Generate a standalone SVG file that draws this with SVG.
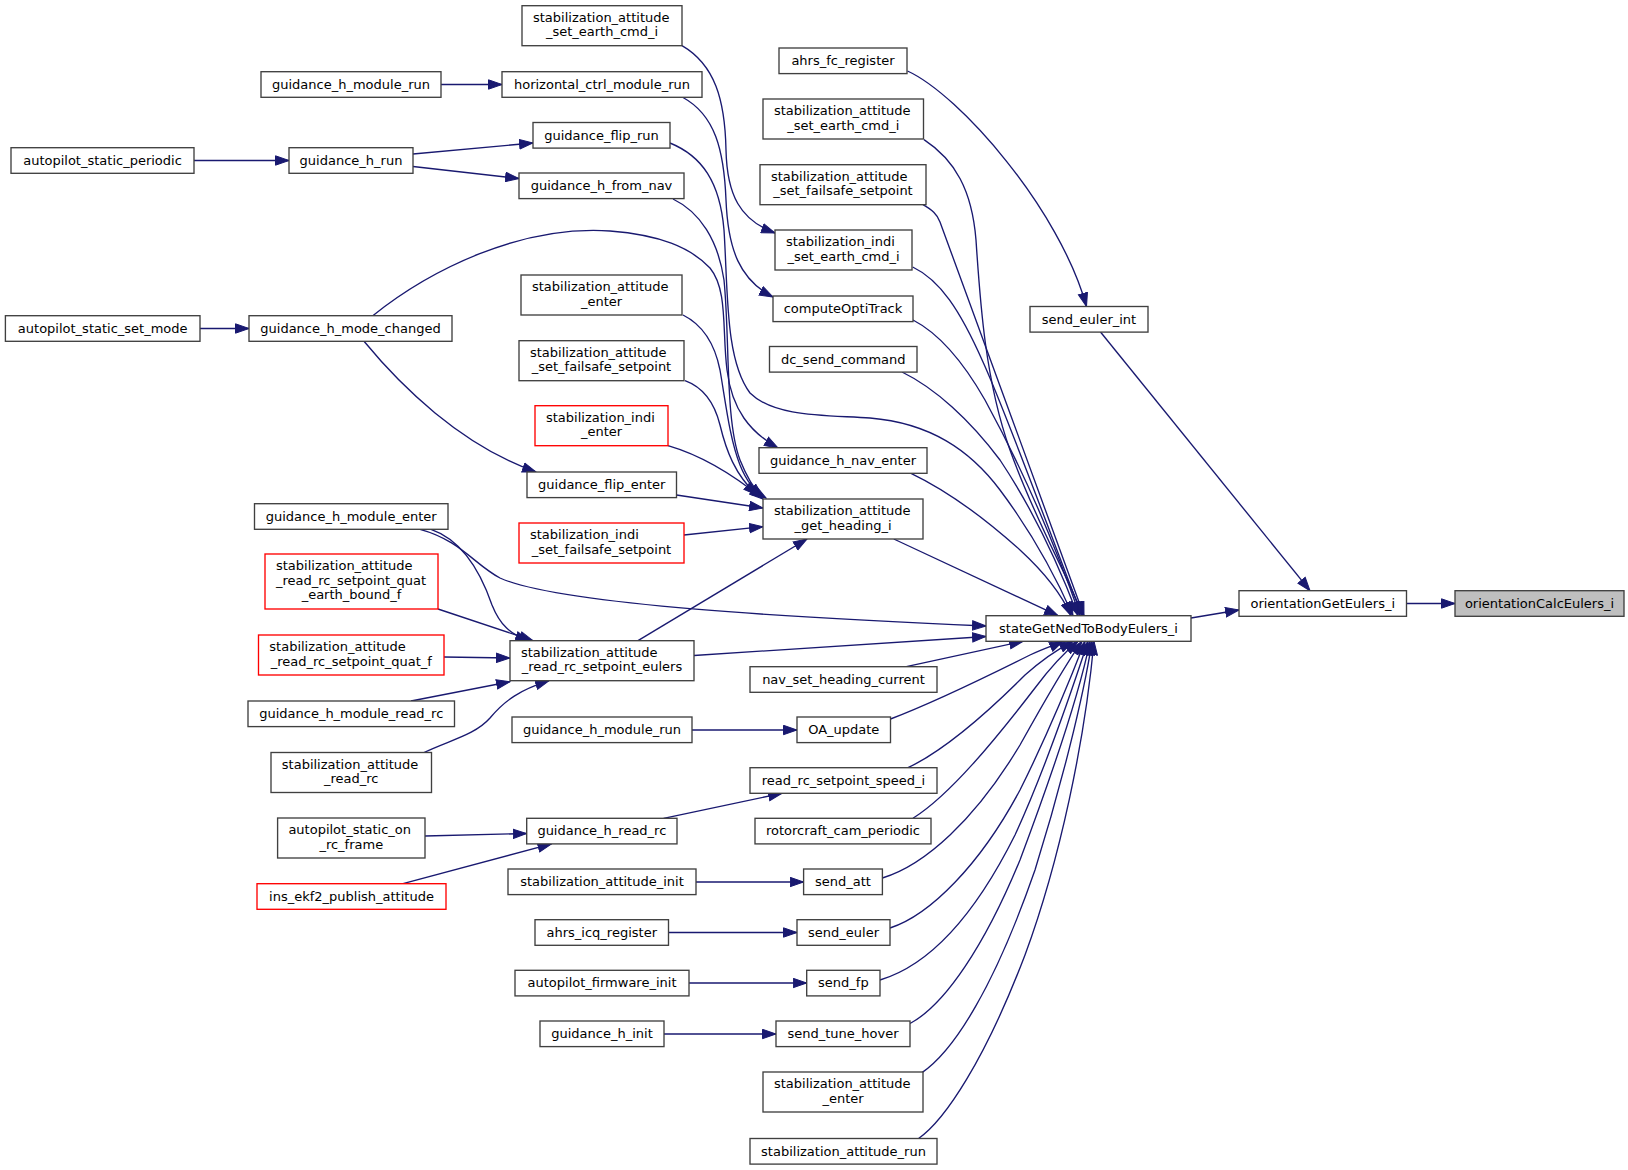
<svg xmlns="http://www.w3.org/2000/svg" width="1628" height="1170" viewBox="0 0 1628 1170">
<style>
.n rect{fill:#ffffff;stroke:#404040;stroke-width:1.35}
.n.r rect{stroke:#ff0000}
.n.h rect{fill:#bfbfbf}
text{font-family:"DejaVu Sans","Liberation Sans",sans-serif;font-size:13px;fill:#000000}
.m{text-anchor:middle}
.s{text-anchor:start}
#edges path{fill:none;stroke:#191970;stroke-width:1.35;marker-end:url(#a)}
</style>
<defs>
<marker id="a" markerUnits="userSpaceOnUse" markerWidth="15" markerHeight="11" viewBox="0 0 15 11" refX="14" refY="5.5" orient="auto">
<path d="M0.5,0.8 L14,5.5 L0.5,10.2 Z" fill="#191970" stroke="#191970" stroke-width="1"/>
</marker>
</defs>
<rect x="0" y="0" width="1628" height="1170" fill="#ffffff"/>
<g id="edges">
<path d="M1406.5,603.5 L1455,603.5"/>
<path d="M1191,618 L1239,610"/>
<path d="M1100.5,332 L1310,590.7"/>
<path d="M907.5,71 C960,95 1060,210 1086.5,306.5"/>
<path d="M441,84.5 L502,84.5"/>
<path d="M194,160.5 L289,160.5"/>
<path d="M413,154 L533,143"/>
<path d="M413,166.5 L519,178.5"/>
<path d="M200,328.5 L249,328.5"/>
<path d="M364,341.3 C400,385 460,445 536,472"/>
<path d="M372.8,315.7 C430,270 520,225 610,231 C660,235 690,247 710,268 C728,290 722,330 727,370 C732,410 750,432 778,448"/>
<path d="M682,45.7 C715,65 725,100 726,150 C727,195 740,220 775,233"/>
<path d="M683,97.5 C715,115 724,150 726,200 C728,250 740,280 773,297"/>
<path d="M670,143 C702,156 720,182 724,230 C728,290 725,360 750,393 C775,418 830,415 870,418 C930,423 970,450 1000,490 C1030,530 1055,575 1073,615.7"/>
<path d="M673,199 C700,212 718,240 724,280 C730,340 725,420 740,460 C748,480 755,490 762,497"/>
<path d="M683,315 C703,325 715,345 720,370 C726,405 730,440 740,465 C746,480 753,490 766,498"/>
<path d="M685,380.7 C705,388 715,405 720,425 C726,450 735,475 757,495"/>
<path d="M668,445.7 C700,455 730,472 763,499"/>
<path d="M676.5,495 L763,508"/>
<path d="M684,535 L763,526.7"/>
<path d="M638,640.7 L807,539"/>
<path d="M431,529.3 C462,540 480,570 492,605 C500,625 510,634 529,640.7"/>
<path d="M420,529.3 C460,540 475,565 500,578 C560,605 800,618 986,626"/>
<path d="M694,655.5 L986,636.5"/>
<path d="M438,609 L533,640.7"/>
<path d="M444,657 L510,658"/>
<path d="M411,701 L510,681.7"/>
<path d="M424,752.5 C450,740 475,735 490,718 C505,700 520,690 549,680.7"/>
<path d="M692,730 L797,730"/>
<path d="M663.6,818.3 L782,793.3"/>
<path d="M425,836 L526.7,833.5"/>
<path d="M403,883.7 L551.5,843.9"/>
<path d="M696,882 L803.6,882"/>
<path d="M668.5,932.5 L797,932.5"/>
<path d="M689,983 L806.7,983"/>
<path d="M664,1034 L776,1034"/>
<path d="M924,139.6 C955,160 972,190 976,240 C980,300 985,380 1010,450 C1035,520 1065,570 1083,615.7"/>
<path d="M923,204.7 C932,210 937,214 940,222 C975,320 1050,520 1084,615.7"/>
<path d="M912.7,267 C940,280 960,310 983,362 C1005,410 1045,520 1082,615.7"/>
<path d="M913,320 C940,334 965,365 985,400 C1015,455 1050,530 1080,615.7"/>
<path d="M902,372 C935,388 970,420 1000,460 C1030,505 1055,555 1078,615.7"/>
<path d="M911,473.3 C950,492 990,523 1020,550 C1045,573 1062,595 1071,615.7"/>
<path d="M893.8,539 L1058,615.7"/>
<path d="M906.3,666.7 L1023,641.3"/>
<path d="M890.5,719 C935,702 990,675 1030,655 C1045,648 1055,645 1063,641.3"/>
<path d="M908,767.7 C945,750 990,710 1025,675 C1045,657 1060,648 1073,641.3"/>
<path d="M913,818.3 C950,795 995,740 1035,688 C1050,668 1065,652 1078,641.3"/>
<path d="M882.4,878 C925,865 975,820 1020,745 C1045,700 1065,665 1082,641.3"/>
<path d="M890,928 C930,915 980,865 1020,790 C1045,740 1070,680 1085,641.3"/>
<path d="M880,980 C930,965 975,915 1015,835 C1045,770 1072,690 1088,641.3"/>
<path d="M910,1023.5 C945,1005 985,945 1020,860 C1050,780 1078,700 1090,641.3"/>
<path d="M922,1072.6 C955,1050 995,985 1035,870 C1060,790 1083,700 1092,641.3"/>
<path d="M918.6,1138.5 C945,1120 985,1060 1025,955 C1060,860 1085,740 1094,641.3"/>
</g>
<g id="node-autopilot_static_periodic" class="n"><rect x="11" y="147.7" width="183" height="25.6"/><text class="m" x="102.5" y="164.7">autopilot_static_periodic</text></g>
<g id="node-autopilot_static_set_mode" class="n"><rect x="5.4" y="315.7" width="194.6" height="25.6"/><text class="m" x="102.7" y="332.7">autopilot_static_set_mode</text></g>
<g id="node-guidance_h_module_run_1" class="n"><rect x="261" y="71.7" width="180" height="25.6"/><text class="m" x="351" y="88.7">guidance_h_module_run</text></g>
<g id="node-guidance_h_run" class="n"><rect x="289" y="147.7" width="124" height="25.6"/><text class="m" x="351" y="164.7">guidance_h_run</text></g>
<g id="node-guidance_h_mode_changed" class="n"><rect x="249" y="315.7" width="203" height="25.6"/><text class="m" x="350.5" y="332.7">guidance_h_mode_changed</text></g>
<g id="node-guidance_h_module_enter" class="n"><rect x="254.5" y="503.7" width="193.5" height="25.6"/><text class="m" x="351.2" y="520.7">guidance_h_module_enter</text></g>
<g id="node-stabilization_attitude_read_rc_setpoint_quat_earth_bound_f" class="n r"><rect x="265" y="554" width="173" height="55"/><text class="s" x="276" y="570.3">stabilization_attitude</text><text class="s" x="276" y="584.6">_read_rc_setpoint_quat</text><text class="m" x="351.5" y="598.9">_earth_bound_f</text></g>
<g id="node-stabilization_attitude_read_rc_setpoint_quat_f" class="n r"><rect x="258.5" y="635" width="185.5" height="40"/><text class="s" x="269.3" y="651.3">stabilization_attitude</text><text class="m" x="351.25" y="665.6">_read_rc_setpoint_quat_f</text></g>
<g id="node-guidance_h_module_read_rc" class="n"><rect x="248" y="701" width="206.5" height="25.6"/><text class="m" x="351.25" y="718">guidance_h_module_read_rc</text></g>
<g id="node-stabilization_attitude_read_rc" class="n"><rect x="271" y="752.5" width="160.5" height="40"/><text class="s" x="281.8" y="768.8">stabilization_attitude</text><text class="m" x="351.25" y="783.1">_read_rc</text></g>
<g id="node-autopilot_static_on_rc_frame" class="n"><rect x="277.6" y="818" width="147.4" height="40"/><text class="s" x="288.4" y="834.3">autopilot_static_on</text><text class="m" x="351.3" y="848.6">_rc_frame</text></g>
<g id="node-ins_ekf2_publish_attitude" class="n r"><rect x="257" y="883.7" width="189" height="25.6"/><text class="m" x="351.5" y="900.7">ins_ekf2_publish_attitude</text></g>
<g id="node-stabilization_attitude_set_earth_cmd_i_1" class="n"><rect x="522" y="5.7" width="160" height="40"/><text class="s" x="533" y="22">stabilization_attitude</text><text class="m" x="602" y="36.3">_set_earth_cmd_i</text></g>
<g id="node-horizontal_ctrl_module_run" class="n"><rect x="502" y="71.7" width="200" height="25.6"/><text class="m" x="602" y="88.7">horizontal_ctrl_module_run</text></g>
<g id="node-guidance_flip_run" class="n"><rect x="533" y="122.5" width="137" height="25.6"/><text class="m" x="601.5" y="139.5">guidance_flip_run</text></g>
<g id="node-guidance_h_from_nav" class="n"><rect x="519" y="173" width="165" height="25.6"/><text class="m" x="601.5" y="190">guidance_h_from_nav</text></g>
<g id="node-stabilization_attitude_enter_1" class="n"><rect x="521" y="275" width="161" height="40"/><text class="s" x="532" y="291.3">stabilization_attitude</text><text class="m" x="601.5" y="305.6">_enter</text></g>
<g id="node-stabilization_attitude_set_failsafe_setpoint_1" class="n"><rect x="519" y="340.7" width="165" height="40"/><text class="s" x="530" y="357">stabilization_attitude</text><text class="m" x="601.5" y="371.3">_set_failsafe_setpoint</text></g>
<g id="node-stabilization_indi_enter" class="n r"><rect x="535" y="405.7" width="133" height="40"/><text class="s" x="546" y="422">stabilization_indi</text><text class="m" x="601.5" y="436.3">_enter</text></g>
<g id="node-guidance_flip_enter" class="n"><rect x="527" y="472" width="149.5" height="25.6"/><text class="m" x="601.75" y="489">guidance_flip_enter</text></g>
<g id="node-stabilization_indi_set_failsafe_setpoint" class="n r"><rect x="519" y="523" width="165" height="40"/><text class="s" x="530" y="539.3">stabilization_indi</text><text class="m" x="601.5" y="553.6">_set_failsafe_setpoint</text></g>
<g id="node-stabilization_attitude_read_rc_setpoint_eulers" class="n"><rect x="510" y="640.7" width="184" height="40"/><text class="s" x="521" y="657">stabilization_attitude</text><text class="m" x="602" y="671.3">_read_rc_setpoint_eulers</text></g>
<g id="node-guidance_h_module_run_2" class="n"><rect x="512" y="717" width="180" height="25.6"/><text class="m" x="602" y="734">guidance_h_module_run</text></g>
<g id="node-guidance_h_read_rc" class="n"><rect x="526.7" y="818.3" width="150.3" height="25.6"/><text class="m" x="601.85" y="835.3">guidance_h_read_rc</text></g>
<g id="node-stabilization_attitude_init" class="n"><rect x="508" y="869" width="188" height="25.6"/><text class="m" x="602" y="886">stabilization_attitude_init</text></g>
<g id="node-ahrs_icq_register" class="n"><rect x="535" y="919.7" width="133.5" height="25.6"/><text class="m" x="601.75" y="936.7">ahrs_icq_register</text></g>
<g id="node-autopilot_firmware_init" class="n"><rect x="515" y="970.3" width="174" height="25.6"/><text class="m" x="602" y="987.3">autopilot_firmware_init</text></g>
<g id="node-guidance_h_init" class="n"><rect x="540" y="1021" width="124" height="25.6"/><text class="m" x="602" y="1038">guidance_h_init</text></g>
<g id="node-ahrs_fc_register" class="n"><rect x="779" y="48" width="128" height="25.6"/><text class="m" x="843" y="65">ahrs_fc_register</text></g>
<g id="node-stabilization_attitude_set_earth_cmd_i_2" class="n"><rect x="763" y="99" width="160.5" height="40"/><text class="s" x="774" y="115.3">stabilization_attitude</text><text class="m" x="843.25" y="129.6">_set_earth_cmd_i</text></g>
<g id="node-stabilization_attitude_set_failsafe_setpoint_2" class="n"><rect x="760" y="164.7" width="166" height="40"/><text class="s" x="771" y="181">stabilization_attitude</text><text class="m" x="843" y="195.3">_set_failsafe_setpoint</text></g>
<g id="node-stabilization_indi_set_earth_cmd_i" class="n"><rect x="775" y="230" width="137" height="40"/><text class="s" x="786" y="246.3">stabilization_indi</text><text class="m" x="843.5" y="260.6">_set_earth_cmd_i</text></g>
<g id="node-computeOptiTrack" class="n"><rect x="773" y="296" width="140" height="25.6"/><text class="m" x="843" y="313">computeOptiTrack</text></g>
<g id="node-dc_send_command" class="n"><rect x="769.5" y="346.5" width="147.5" height="25.6"/><text class="m" x="843.25" y="363.5">dc_send_command</text></g>
<g id="node-guidance_h_nav_enter" class="n"><rect x="759" y="447.7" width="168" height="25.6"/><text class="m" x="843" y="464.7">guidance_h_nav_enter</text></g>
<g id="node-stabilization_attitude_get_heading_i" class="n"><rect x="763" y="499" width="160" height="40"/><text class="s" x="774" y="515.3">stabilization_attitude</text><text class="m" x="843" y="529.6">_get_heading_i</text></g>
<g id="node-nav_set_heading_current" class="n"><rect x="750" y="666.7" width="187" height="25.6"/><text class="m" x="843.5" y="683.7">nav_set_heading_current</text></g>
<g id="node-OA_update" class="n"><rect x="797" y="717" width="93.5" height="25.6"/><text class="m" x="843.75" y="734">OA_update</text></g>
<g id="node-read_rc_setpoint_speed_i" class="n"><rect x="750" y="767.7" width="187" height="25.6"/><text class="m" x="843.5" y="784.7">read_rc_setpoint_speed_i</text></g>
<g id="node-rotorcraft_cam_periodic" class="n"><rect x="755" y="818.3" width="176" height="25.6"/><text class="m" x="843" y="835.3">rotorcraft_cam_periodic</text></g>
<g id="node-send_att" class="n"><rect x="803.6" y="869" width="78.8" height="25.6"/><text class="m" x="843" y="886">send_att</text></g>
<g id="node-send_euler" class="n"><rect x="797" y="919.7" width="93" height="25.6"/><text class="m" x="843.5" y="936.7">send_euler</text></g>
<g id="node-send_fp" class="n"><rect x="806.7" y="970.3" width="73.3" height="25.6"/><text class="m" x="843.35" y="987.3">send_fp</text></g>
<g id="node-send_tune_hover" class="n"><rect x="776" y="1021" width="134" height="25.6"/><text class="m" x="843" y="1038">send_tune_hover</text></g>
<g id="node-stabilization_attitude_enter_2" class="n"><rect x="763" y="1072" width="160" height="40"/><text class="s" x="774" y="1088.3">stabilization_attitude</text><text class="m" x="843" y="1102.6">_enter</text></g>
<g id="node-stabilization_attitude_run" class="n"><rect x="750" y="1138.5" width="187" height="25.6"/><text class="m" x="843.5" y="1155.5">stabilization_attitude_run</text></g>
<g id="node-send_euler_int" class="n"><rect x="1030" y="306.5" width="118" height="25.6"/><text class="m" x="1089" y="323.5">send_euler_int</text></g>
<g id="node-stateGetNedToBodyEulers_i" class="n"><rect x="986" y="615.7" width="205" height="25.6"/><text class="m" x="1088.5" y="632.7">stateGetNedToBodyEulers_i</text></g>
<g id="node-orientationGetEulers_i" class="n"><rect x="1239" y="590.7" width="167.5" height="25.6"/><text class="m" x="1322.75" y="607.7">orientationGetEulers_i</text></g>
<g id="node-orientationCalcEulers_i" class="n h"><rect x="1455" y="590.7" width="169" height="25.6"/><text class="m" x="1539.5" y="607.7">orientationCalcEulers_i</text></g>
</svg>
